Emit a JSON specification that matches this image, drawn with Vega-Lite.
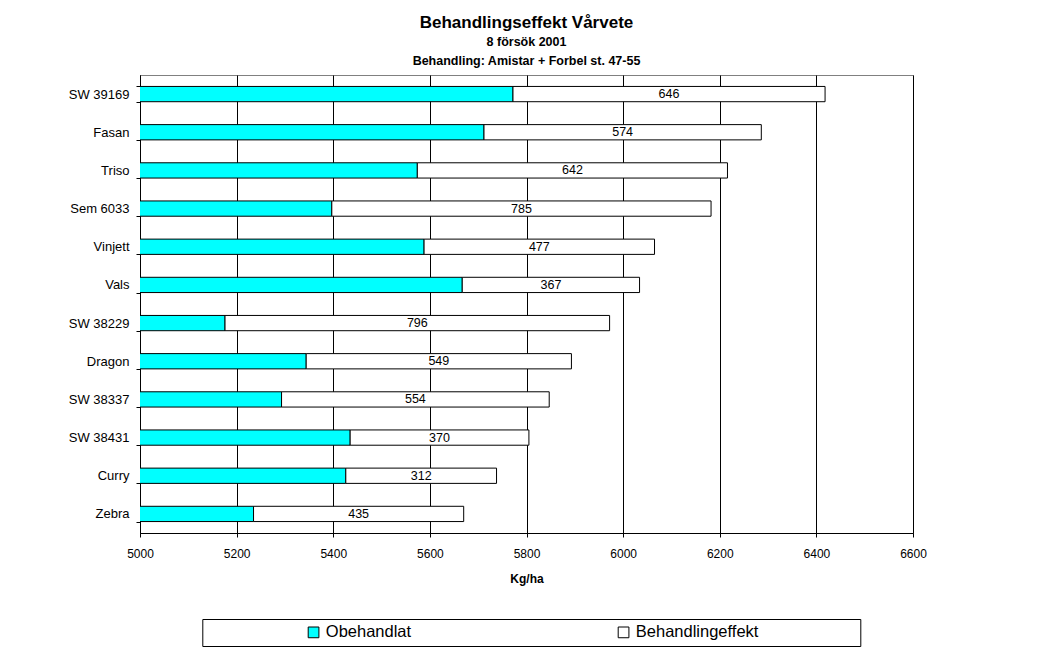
{
  "$schema": "https://vega.github.io/schema/vega-lite/v6.json",
  "width": 773,
  "height": 458,
  "autosize": {"type": "none"},
  "padding": {"left": 140, "top": 75, "right": 143, "bottom": 116},
  "background": "white",
  "title": {
    "text": "Behandlingseffekt Vårvete",
    "subtitle": ["8 försök 2001", "Behandling: Amistar + Forbel st. 47-55"],
    "anchor": "middle",
    "frame": "group",
    "font": "Liberation Sans",
    "fontSize": 17,
    "fontWeight": "bold",
    "color": "#000",
    "subtitleFont": "Liberation Sans",
    "subtitleFontSize": 12.5,
    "subtitleFontWeight": "bold",
    "subtitleColor": "#000",
    "subtitlePadding": 4,
    "subtitleLineHeight": 19,
    "offset": 1
  },
  "data": {
    "values": [
      {"sort": "SW 39169", "Obehandlat": 5772, "Behandlingeffekt": 646},
      {"sort": "Fasan", "Obehandlat": 5712, "Behandlingeffekt": 574},
      {"sort": "Triso", "Obehandlat": 5574, "Behandlingeffekt": 642},
      {"sort": "Sem 6033", "Obehandlat": 5397, "Behandlingeffekt": 785},
      {"sort": "Vinjett", "Obehandlat": 5588, "Behandlingeffekt": 477},
      {"sort": "Vals", "Obehandlat": 5667, "Behandlingeffekt": 367},
      {"sort": "SW 38229", "Obehandlat": 5176, "Behandlingeffekt": 796},
      {"sort": "Dragon", "Obehandlat": 5344, "Behandlingeffekt": 549},
      {"sort": "SW 38337", "Obehandlat": 5293, "Behandlingeffekt": 554},
      {"sort": "SW 38431", "Obehandlat": 5435, "Behandlingeffekt": 370},
      {"sort": "Curry", "Obehandlat": 5426, "Behandlingeffekt": 312},
      {"sort": "Zebra", "Obehandlat": 5235, "Behandlingeffekt": 435}
    ]
  },
  "transform": [
    {"fold": ["Obehandlat", "Behandlingeffekt"], "as": ["serie", "kg"]},
    {"stack": "kg", "groupby": ["sort"], "sort": [{"field": "serie", "order": "descending"}], "as": ["x0", "x1"]},
    {"calculate": "(datum.x0 + datum.x1) / 2", "as": "mid"}
  ],
  "encoding": {
    "y": {
      "field": "sort",
      "type": "nominal",
      "sort": null,
      "title": null,
      "scale": {"paddingInner": 0.6, "paddingOuter": 0.3},
      "axis": {
        "tickBand": "extent",
        "tickSize": 4,
        "tickColor": "#000",
        "domainColor": "#000",
        "labelFont": "Liberation Sans",
        "labelFontSize": 13,
        "labelColor": "#000",
        "labelPadding": 7,
        "grid": false
      }
    }
  },
  "layer": [
    {
      "mark": {"type": "bar", "stroke": "#000", "strokeWidth": 1, "clip": true},
      "encoding": {
        "x": {
          "field": "x0",
          "type": "quantitative",
          "title": "Kg/ha",
          "scale": {"domain": [5000, 6600], "nice": false, "zero": false},
          "axis": {
            "values": [5000, 5200, 5400, 5600, 5800, 6000, 6200, 6400, 6600],
            "format": "d",
            "grid": true,
            "gridColor": "#000",
            "gridWidth": 1,
            "domainColor": "#000",
            "tickColor": "#000",
            "tickSize": 4,
            "labelFont": "Liberation Sans",
            "labelFontSize": 12,
            "labelColor": "#000",
            "labelPadding": 11,
            "labelFlush": false,
            "titleFont": "Liberation Sans",
            "titleFontSize": 12,
            "titleFontWeight": "bold",
            "titleColor": "#000",
            "titlePadding": 14
          }
        },
        "x2": {"field": "x1"},
        "color": {
          "field": "serie",
          "type": "nominal",
          "scale": {"domain": ["Obehandlat", "Behandlingeffekt"], "range": ["#00FFFF", "#FFFFFF"]},
          "legend": {
            "title": "\u200b\u00a0\u00a0\u00a0\u00a0\u00a0\u00a0\u00a0\u00a0\u00a0\u00a0\u00a0\u00a0\u00a0\u00a0\u00a0\u00a0\u00a0\u00a0\u00a0\u00a0\u00a0\u00a0\u00a0\u00a0\u00a0\u00a0\u00a0\u00a0\u00a0\u00a0\u00a0\u00a0\u00a0\u00a0\u200b",
            "titleOrient": "left",
            "titleFontSize": 10,
            "titlePadding": 3,
            "orient": "none",
            "legendX": 62.3,
            "legendY": 544,
            "direction": "horizontal",
            "columns": 2,
            "columnPadding": 204,
            "padding": 5,
            "strokeColor": "#000",
            "fillColor": "#fff",
            "labelFont": "Liberation Sans",
            "labelFontSize": 16.5,
            "labelColor": "#000",
            "labelLimit": 0,
            "labelOffset": 4,
            "symbolType": "square",
            "symbolSize": 115,
            "symbolStrokeColor": "#000",
            "symbolStrokeWidth": 1,
            "labelExpr": "datum.label == 'Behandlingeffekt' ? datum.label + '\u00a0\u00a0\u00a0\u00a0\u00a0\u00a0\u00a0\u00a0\u00a0\u00a0\u00a0\u00a0\u00a0\u00a0\u00a0\u00a0\u00a0\u00a0\u00a0\u00a0\u00a0\u200b' : datum.label"
          }
        }
      }
    },
    {
      "transform": [{"filter": "datum.serie == 'Behandlingeffekt'"}],
      "mark": {"type": "text", "font": "Liberation Sans", "fontSize": 12.5, "color": "#000"},
      "encoding": {
        "x": {"field": "mid", "type": "quantitative"},
        "text": {"field": "kg", "type": "quantitative"}
      }
    }
  ],
  "config": {
    "font": "Liberation Sans",
    "view": {"stroke": "#808080", "strokeWidth": 1}
  }
}
